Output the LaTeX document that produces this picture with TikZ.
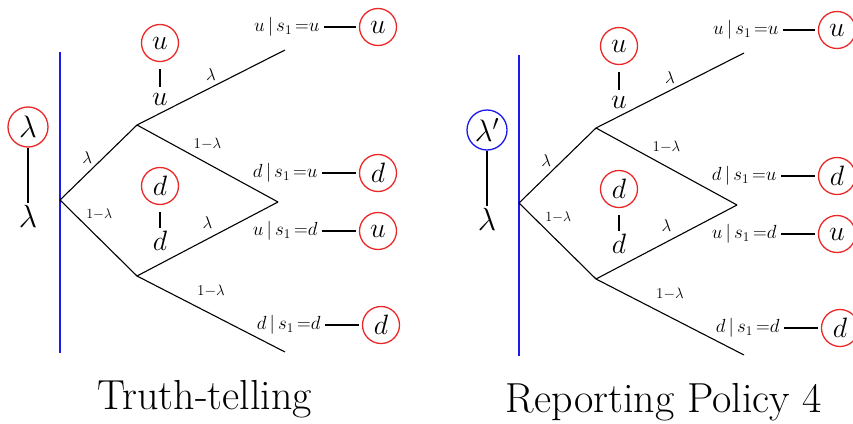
\RequirePackage{fix-cm}
\documentclass[tikz,border=0pt]{standalone}
\usepackage{amsmath,amssymb}
\usetikzlibrary{positioning}
\definecolor{SignalRed}{RGB}{235,40,40}
\definecolor{PolicyBlue}{RGB}{25,25,240}

\begin{document}
\begin{tikzpicture}[x=1pt,y=-1pt,line width=1.1pt,
    obs/.style={draw=SignalRed,circle,line width=1.3pt,minimum size=37pt,inner sep=0pt,font=\fontsize{28}{28}\selectfont},
    prior/.style={circle,line width=1.3pt,minimum size=40pt,inner sep=0pt,font=\fontsize{31}{31}\selectfont},
    state/.style={inner sep=1pt,font=\fontsize{28}{28}\selectfont},
    sig/.style={inner sep=1pt,anchor=east,font=\fontsize{19}{19}\selectfont},
    prob/.style={inner sep=2pt,font=\fontsize{17}{17}\selectfont},
    tie/.style={line width=1.8pt,shorten <=3pt,shorten >=3pt}]
  \useasboundingbox (0,0) rectangle (853,423);
  \foreach \p/\dx/\dy/\col/\pr/\cap in {L/0/0/SignalRed/\lambda/Truth-telling,
      R/459/3/PolicyBlue/\lambda'/Reporting Policy 4}{
    \begin{scope}[xshift=\dx,yshift=-\dy]
      \coordinate (top\p) at (60,52);
      \coordinate (bot\p) at (60,353);
      \coordinate (root\p) at (60,200);
      \coordinate (hi\p) at (137,125);
      \coordinate (lo\p) at (137,276);
      \coordinate (uu\p) at (285,50);
      \coordinate (mid\p) at (278,202);
      \coordinate (dd\p) at (285,352);
      \draw[PolicyBlue] (top\p) -- (bot\p);
      \draw (root\p) -- (hi\p) node[prob,pos=0.45,above left]{$\lambda$};
      \draw (root\p) -- (lo\p) node[prob,pos=0.3,above right=1pt,font=\fontsize{14}{14}\selectfont]{$1{-}\lambda$};
      \draw (hi\p) -- (uu\p) node[prob,midway,above=4pt]{$\lambda$};
      \draw (hi\p) -- (mid\p) node[prob,midway,above=11pt,font=\fontsize{15}{15}\selectfont]{$1{-}\lambda$};
      \draw (lo\p) -- (mid\p) node[prob,midway,above=8pt]{$\lambda$};
      \draw (lo\p) -- (dd\p) node[prob,midway,above=15pt,font=\fontsize{15}{15}\selectfont]{$1{-}\lambda$};

      \node[prior,draw=\col] (pc\p) at (28,127) {$\pr$};
      \node[state,font=\fontsize{32}{32}\selectfont] (pt\p) at (28,216) {$\lambda$};
      \draw (pc\p) -- (pt\p);

      \node[obs] (uc\p) at (160,43) {$u$};
      \node[state] (ut\p) at (160,99) {$u$};
      \draw[shorten <=7pt,shorten >=4pt] (uc\p) -- (ut\p);
      \node[obs] (dc\p) at (160,186) {$d$};
      \node[state] (dt\p) at (160,241) {$d$};
      \draw[shorten <=7pt,shorten >=2pt] (dc\p) -- (dt\p);

      \node[sig] (s1\p) at (321,27) {$u\,|\,s_1\,{=}u$};
      \node[sig] (s2\p) at (319,173) {$d\,|\,s_1\,{=}u$};
      \node[sig] (s3\p) at (319,231) {$u\,|\,s_1\,{=}d$};
      \node[sig] (s4\p) at (322,325) {$d\,|\,s_1\,{=}d$};
      \node[obs,right=57pt of s1\p.east,anchor=center] (e1\p) {$u$};
      \node[obs,right=59pt of s2\p.east,anchor=center] (e2\p) {$d$};
      \node[obs,right=59pt of s3\p.east,anchor=center] (e3\p) {$u$};
      \node[obs,right=59pt of s4\p.east,anchor=center] (e4\p) {$d$};
      \draw[tie] (s1\p) -- (e1\p);
      \draw[tie] (s2\p) -- (e2\p);
      \draw[tie] (s3\p) -- (e3\p);
      \draw[tie] (s4\p) -- (e4\p);

      \node[font=\fontsize{42}{48}\selectfont] (cap\p) at (205,399) {\cap};
    \end{scope}
  }
\end{tikzpicture}
\end{document}
